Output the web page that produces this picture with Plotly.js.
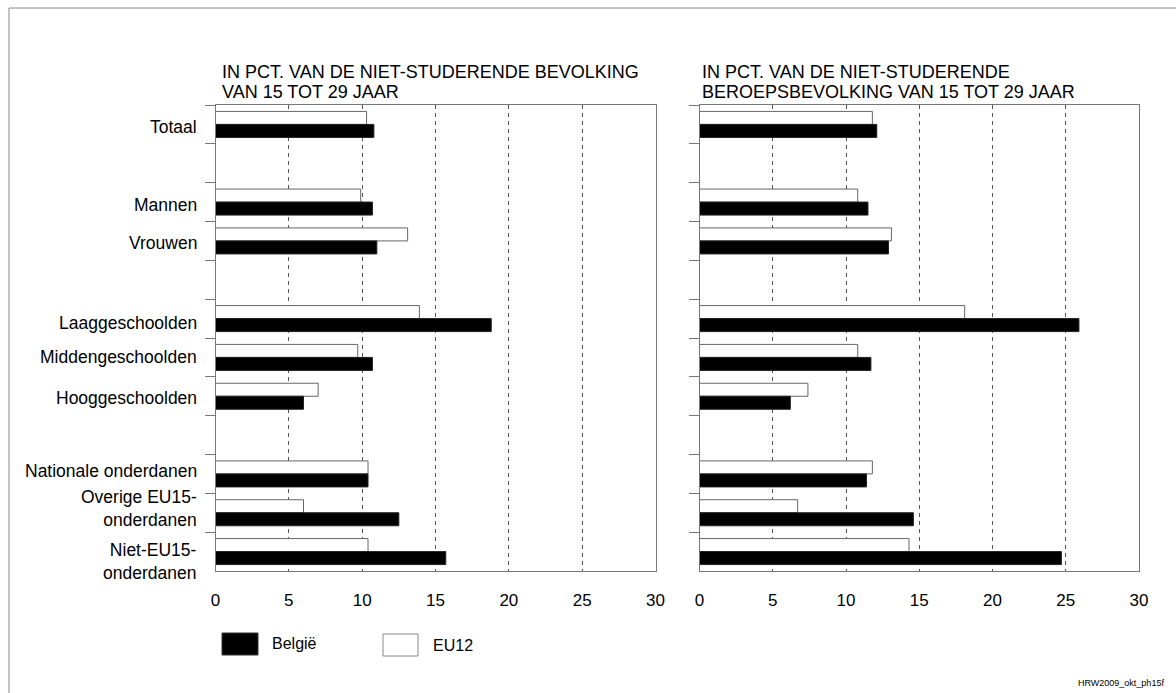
<!DOCTYPE html>
<html>
<head>
<meta charset="utf-8">
<script src="https://cdn.plot.ly/plotly-3.0.1.min.js"></script>
<style>
html,body{margin:0;padding:0;background:#fff;}
#chart{width:1176px;height:693px;}
</style>
</head>
<body>
<div id="chart"></div>
<script>
// Categories (blank entries are spacer rows)
const categories = ["Totaal", " ", "Mannen", "Vrouwen", "  ", "Laaggeschoolden", "Middengeschoolden", "Hooggeschoolden", "   ", "Nationale onderdanen", "Overige EU15-<br>onderdanen", "Niet-EU15-<br>onderdanen"];

// Left panel: % of non-studying population aged 15-29
const belgieBevolking = [10.8, null, 10.7, 11.0, null, 18.8, 10.7, 6.0, null, 10.4, 12.5, 15.7];
const eu12Bevolking   = [10.3, null, 9.9, 13.1, null, 13.9, 9.7, 7.0, null, 10.4, 6.0, 10.4];

// Right panel: % of non-studying labour force aged 15-29
const belgieBeroeps = [12.1, null, 11.5, 12.9, null, 25.9, 11.7, 6.2, null, 11.4, 14.6, 24.7];
const eu12Beroeps   = [11.8, null, 10.8, 13.1, null, 18.1, 10.8, 7.4, null, 11.8, 6.7, 14.3];

const xTicks = [0, 5, 10, 15, 20, 25, 30];
const seriesNames = ["België", "EU12"];
const panelTitles = [
  ["IN PCT. VAN DE NIET-STUDERENDE BEVOLKING", "VAN 15 TOT 29 JAAR"],
  ["IN PCT. VAN DE NIET-STUDERENDE", "BEROEPSBEVOLKING VAN 15 TOT 29 JAAR"]
];
const footnote = "HRW2009_okt_ph15f";

// layout-only: small vertical nudges (px, downwards) of the category labels
const labelNudge = [3, 0, 3, 2, 0, 4, 0, 2, 0, -3, -4, 10];

const W = 1176, H = 693;
const px = v => v / W;
const py = v => 1 - v / H;
const FONT = "Liberation Sans, Arial, sans-serif";
const TXT = "#000";

function barTrace(x, name, fill, line, xa, ya) {
  return {
    type: "bar", orientation: "h", x: x, y: categories, name: name,
    xaxis: xa, yaxis: ya, showlegend: false, hoverinfo: "x+name",
    marker: {color: fill, line: {color: line, width: 1}}
  };
}

const data = [
  barTrace(eu12Bevolking, seriesNames[1], "#ffffff", "#666666", "x", "y"),
  barTrace(belgieBevolking, seriesNames[0], "#000000", "#222222", "x", "y"),
  barTrace(eu12Beroeps, seriesNames[1], "#ffffff", "#666666", "x2", "y2"),
  barTrace(belgieBeroeps, seriesNames[0], "#000000", "#222222", "x2", "y2")
];

function xAxis(domain, anchor) {
  return {
    domain: domain, anchor: anchor, range: [0, 30], tickvals: xTicks,
    ticks: "", showline: true, mirror: true, linecolor: "#777", linewidth: 1,
    showgrid: true, gridcolor: "#555", gridwidth: 1, griddash: "4px,4px",
    zeroline: false, fixedrange: true,
    tickfont: {family: FONT, size: 17, color: TXT}, ticklabelstandoff: 14
  };
}
function yAxis(anchor) {
  return {
    domain: [py(571), py(105)], anchor: anchor, type: "category",
    categoryorder: "array", categoryarray: categories, autorange: "reversed",
    tickson: "boundaries", ticks: "outside", ticklen: 10, tickcolor: "#777", tickwidth: 1,
    showline: true, mirror: true, linecolor: "#777", linewidth: 1,
    showgrid: false, zeroline: false, fixedrange: true,
    showticklabels: false
  };
}

const annotations = [];
// category labels, placed at the category positions of the left y axis
categories.forEach((c, i) => {
  if (!c.trim()) return;
  annotations.push({
    xref: "paper", yref: "y", x: px(199), y: c, xanchor: "right", yanchor: "middle",
    align: "right", showarrow: false, text: c, yshift: -labelNudge[i],
    font: {family: FONT, size: 17.5, color: TXT}
  });
});
const titleX = [220, 700];
panelTitles.forEach((lines, i) => {
  lines.forEach((t, j) => {
    annotations.push({
      xref: "paper", yref: "paper", x: px(titleX[i]), y: py(72 + j * 20),
      xanchor: "left", yanchor: "middle", showarrow: false, text: t,
      font: {family: FONT, size: 18, color: TXT}
    });
  });
});
annotations.push({xref: "paper", yref: "paper", x: px(270), y: py(643), xanchor: "left", yanchor: "middle",
  showarrow: false, text: seriesNames[0], font: {family: FONT, size: 16, color: TXT}});
annotations.push({xref: "paper", yref: "paper", x: px(431), y: py(645), xanchor: "left", yanchor: "middle",
  showarrow: false, text: seriesNames[1], font: {family: FONT, size: 16, color: TXT}});
annotations.push({xref: "paper", yref: "paper", x: px(1166), y: py(683), xanchor: "right", yanchor: "middle",
  showarrow: false, text: footnote, font: {family: FONT, size: 9, color: TXT}});

const shapes = [
  // outer frame (open at right / bottom edges)
  {type: "rect", xref: "paper", yref: "paper", x0: px(9), x1: px(1190), y0: py(710), y1: py(8),
   line: {color: "#888", width: 1}, fillcolor: "rgba(0,0,0,0)", layer: "below"},
  // legend swatches
  {type: "rect", xref: "paper", yref: "paper", x0: px(222), x1: px(258), y0: py(655), y1: py(633),
   line: {color: "#333", width: 1}, fillcolor: "#000"},
  {type: "rect", xref: "paper", yref: "paper", x0: px(383), x1: px(418), y0: py(656), y1: py(634),
   line: {color: "#888", width: 1}, fillcolor: "#fff"}
];

const layout = {
  width: W, height: H,
  margin: {l: 0, r: 0, t: 0, b: 0},
  paper_bgcolor: "#ffffff", plot_bgcolor: "#ffffff",
  barmode: "group", bargap: 0.33, bargroupgap: 0,
  showlegend: false,
  xaxis: xAxis([px(215.5), px(655.5)], "y"),
  yaxis: yAxis("x"),
  xaxis2: xAxis([px(699.5), px(1139)], "y2"),
  yaxis2: yAxis("x2"),
  annotations: annotations,
  shapes: shapes,
  font: {family: FONT, color: TXT}
};

Plotly.newPlot("chart", data, layout, {displayModeBar: false});
</script>
</body>
</html>
